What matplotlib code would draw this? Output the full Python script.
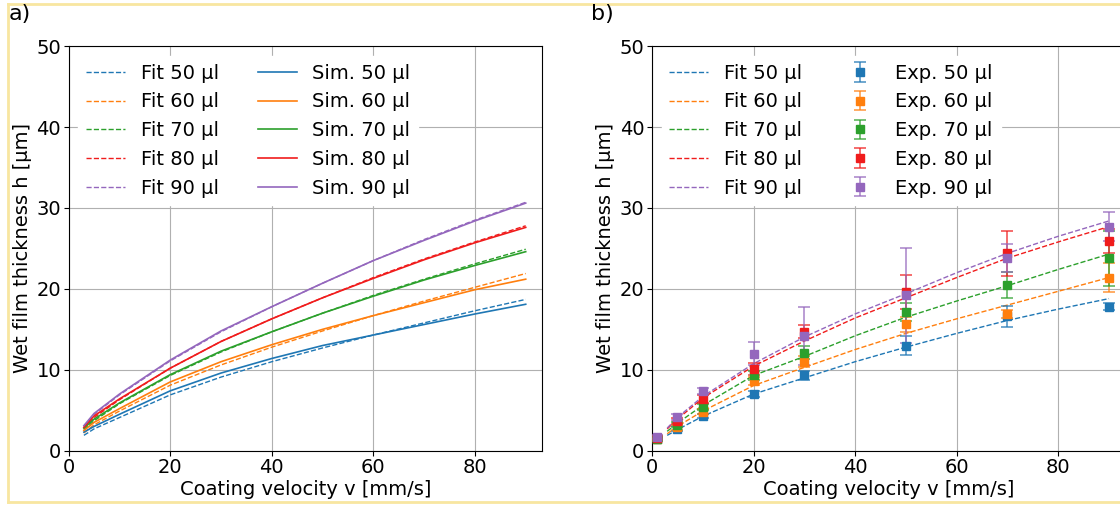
import matplotlib
matplotlib.use("Agg")
import matplotlib.pyplot as plt
from matplotlib.lines import Line2D
from matplotlib.colors import to_rgba

# volumes and colours
volumes = [50, 60, 70, 80, 90]
colors = ['tab:blue', 'tab:orange', 'tab:green', '#f01c1c', 'tab:purple']

# a) simulation vs fit (values read from the figure)
v_curve = [3, 5, 10, 20, 30, 40, 50, 60, 70, 80, 90]
fit_sim = {
    50: [1.9, 2.7, 4.1, 6.9, 9.1, 11.0, 12.7, 14.3, 15.8, 17.3, 18.7],
    60: [2.2, 3.2, 4.9, 8.1, 10.6, 12.8, 14.8, 16.7, 18.5, 20.2, 21.9],
    70: [2.6, 3.7, 5.8, 9.3, 12.2, 14.7, 17.0, 19.2, 21.2, 23.1, 24.9],
    80: [2.8, 4.1, 6.3, 10.2, 13.5, 16.3, 18.9, 21.4, 23.7, 25.8, 27.8],
    90: [3.0, 4.5, 6.9, 11.1, 14.7, 17.8, 20.7, 23.5, 26.1, 28.5, 30.7],
}
sim = {
    50: [2.3, 3.0, 4.5, 7.4, 9.6, 11.4, 13.0, 14.3, 15.6, 16.9, 18.1],
    60: [2.5, 3.5, 5.2, 8.5, 11.0, 13.1, 15.0, 16.7, 18.3, 19.9, 21.2],
    70: [2.8, 3.9, 5.9, 9.4, 12.3, 14.7, 17.0, 19.1, 21.1, 22.9, 24.6],
    80: [2.9, 4.3, 6.4, 10.2, 13.5, 16.3, 18.9, 21.3, 23.6, 25.7, 27.6],
    90: [3.1, 4.6, 7.0, 11.2, 14.8, 17.8, 20.7, 23.5, 26.0, 28.4, 30.6],
}

# b) experiment vs fit
fit_exp = {
    50: [1.9, 2.6, 4.25, 7.0, 9.0, 11.0, 12.8, 14.5, 16.1, 17.5, 18.8],
    60: [2.1, 3.0, 4.9, 8.05, 10.3, 12.5, 14.5, 16.3, 18.0, 19.7, 21.4],
    70: [2.4, 3.4, 5.6, 9.3, 11.65, 14.2, 16.5, 18.5, 20.4, 22.4, 24.3],
    80: [2.7, 3.9, 6.5, 10.45, 13.55, 16.4, 18.9, 21.4, 23.8, 25.8, 27.7],
    90: [2.8, 4.1, 6.7, 10.75, 14.05, 16.9, 19.4, 22.0, 24.4, 26.5, 28.4],
}
v_exp = [1, 5, 10, 20, 30, 50, 70, 90]
exp = {
    50: [1.5, 2.7, 4.3, 7.0, 9.3, 13.0, 16.6, 17.8],
    60: [1.4, 2.9, 4.8, 8.6, 11.0, 15.6, 16.9, 21.4],
    70: [1.4, 3.2, 5.4, 9.3, 12.1, 17.1, 20.5, 23.8],
    80: [1.6, 3.7, 6.4, 10.1, 14.7, 19.6, 24.4, 25.9],
    90: [1.7, 4.2, 7.4, 12.0, 14.2, 19.2, 23.8, 27.7],
}
exp_err = {
    50: [0.2, 0.3, 0.3, 0.4, 0.5, 1.2, 1.3, 0.4],
    60: [0.2, 0.3, 0.3, 0.5, 0.7, 0.9, 0.5, 1.8],
    70: [0.2, 0.3, 0.4, 0.5, 0.8, 1.1, 1.6, 3.4],
    80: [0.2, 0.4, 0.5, 0.7, 0.8, 2.1, 2.8, 1.5],
    90: [0.2, 0.4, 0.4, 1.4, 3.6, 5.9, 1.7, 1.8],
}

fig = plt.figure(figsize=(11.2, 5.07), dpi=100)
ax1 = fig.add_axes([0.0613, 0.111, 0.4226, 0.798])
ax2 = fig.add_axes([0.5821, 0.111, 0.4226, 0.798])

# left panel
h_fit, h_sim = [], []
for vol, c in zip(volumes, colors):
    l1, = ax1.plot(v_curve, fit_sim[vol], '--', color=c, lw=1.0, label=f'Fit {vol} µl')
    h_fit.append(l1)
for vol, c in zip(volumes, colors):
    l2, = ax1.plot(v_curve, sim[vol], '-', color=c, lw=1.2, label=f'Sim. {vol} µl')
    h_sim.append(l2)

# right panel
h_fit2, h_exp = [], []
for vol, c in zip(volumes, colors):
    l1, = ax2.plot(v_curve, fit_exp[vol], '--', color=c, lw=1.0, label=f'Fit {vol} µl')
    h_fit2.append(l1)
for vol, c in zip(volumes, colors):
    eb = ax2.errorbar(v_exp, exp[vol], yerr=exp_err[vol], fmt='s', color=c,
                      ecolor=to_rgba(c, 0.75), markersize=6, capsize=4,
                      elinewidth=1.2, capthick=1.2, label=f'Exp. {vol} µl', zorder=3)
    h_exp.append(eb)

for ax, handles in [(ax1, h_fit + h_sim), (ax2, h_fit2 + h_exp)]:
    ax.set_xlim(0, 93.2)
    ax.set_ylim(0, 50)
    ax.set_xticks([0, 20, 40, 60, 80])
    ax.set_yticks([0, 10, 20, 30, 40, 50])
    ax.grid(True)
    ax.tick_params(labelsize=14, pad=2)
    ax.set_xlabel('Coating velocity v [mm/s]', fontsize=14, labelpad=2)
    ax.set_ylabel('Wet film thickness h [µm]', fontsize=14, labelpad=3)
    leg = ax.legend(handles=handles, ncol=2, loc='upper left', fontsize=14,
                    framealpha=1.0, edgecolor='white', fancybox=False,
                    labelspacing=0.5)

fig.text(9 / 1120, 1 - 4 / 507, 'a)', fontsize=16, va='top', ha='left')
fig.text(591 / 1120, 1 - 4 / 507, 'b)', fontsize=16, va='top', ha='left')

# light yellow frame (left, top, bottom)
frame_c = '#f8e6a0'
x0, xt, yb = 7.5 / 1120, 1 - 3.5 / 507, 5 / 507
fig.add_artist(Line2D([x0, 1], [xt, xt], transform=fig.transFigure, color=frame_c, lw=2))
fig.add_artist(Line2D([x0, 1], [yb, yb], transform=fig.transFigure, color=frame_c, lw=2))
fig.add_artist(Line2D([x0, x0], [yb, xt], transform=fig.transFigure, color=frame_c, lw=2))

fig.savefig('out.png', dpi=100)
